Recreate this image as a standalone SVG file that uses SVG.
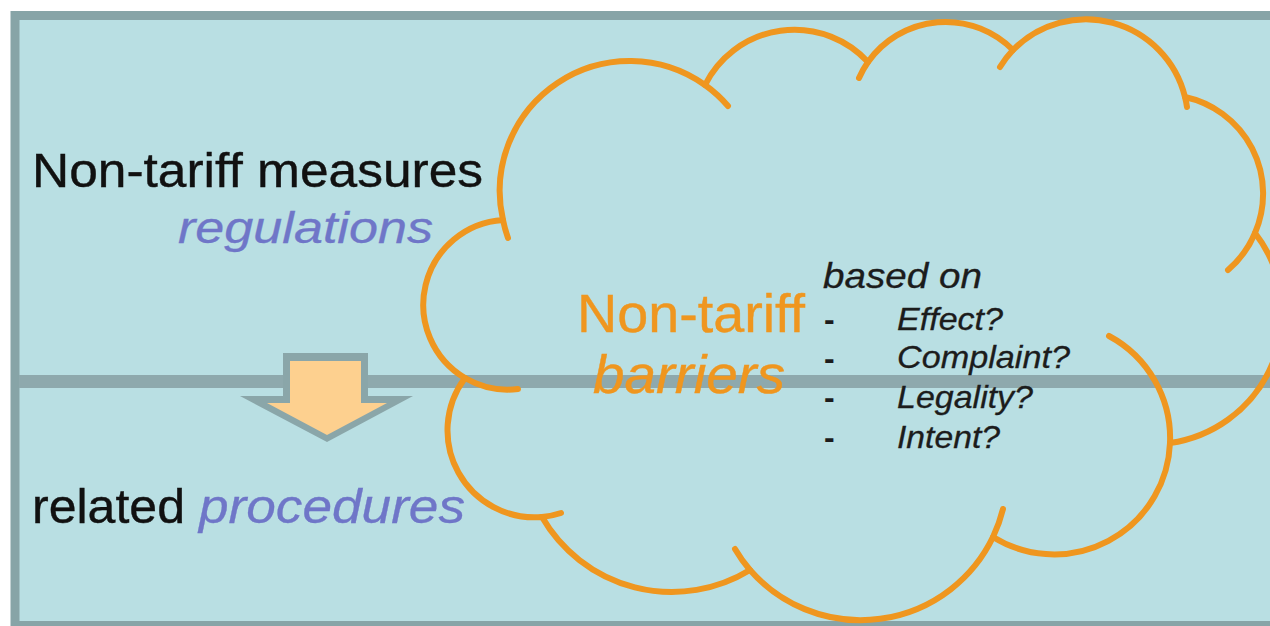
<svg xmlns="http://www.w3.org/2000/svg" width="1270" height="626" viewBox="0 0 1270 626">
<style>
.t{font-family:"Liberation Sans",Arial,Helvetica,sans-serif}
.blk{fill:#111111;stroke:#111111;stroke-width:0.4}
.pur{fill:#6f76c8;stroke:#6f76c8;stroke-width:0.3;font-style:italic}
.org{fill:#ef961f;stroke:#ef961f;stroke-width:0.4}
.lst{fill:#1c1c1c;stroke:#1c1c1c;stroke-width:0.3;font-style:italic}
.dash{fill:#1c1c1c;font-weight:bold}
.cl{fill:none;stroke:#ef961f;stroke-width:6;stroke-linecap:round;stroke-linejoin:round}
</style>
<rect x="0" y="0" width="1270" height="626" fill="#ffffff"/>
<g id="frame">
<rect x="15" y="15.5" width="1270" height="610" fill="#b9dfe3" stroke="#87a4a7" stroke-width="9"/>
<rect x="19" y="375" width="1251" height="13" fill="#8ea9ad"/>
</g>
<g id="connectors">
<polygon points="283,353 368,353 368,396 413,396 327,442 240,396 283,396" fill="#8aa6a9"/>
<polygon points="290,361 361,361 361,403 387,403 327,435 267,403 290,403" fill="#fdd08f"/>
</g>
<g id="ntm">
<text class="t blk" x="32" y="187" font-size="48" textLength="451" lengthAdjust="spacingAndGlyphs">Non-tariff measures</text>
<text class="t pur" x="178" y="243" font-size="44" textLength="255" lengthAdjust="spacingAndGlyphs">regulations</text>
</g>
<g id="procedures">
<text class="t blk" x="32" y="523" font-size="48" textLength="153" lengthAdjust="spacingAndGlyphs">related</text>
<text class="t pur" x="199" y="523" font-size="48" textLength="266" lengthAdjust="spacingAndGlyphs">procedures</text>
</g>
<g id="cloud">
<path class="cl" d="M503,220 A130,130 0 0 1 705,85 A100,100 0 0 1 868,62 A95,95 0 0 1 1013,50 A102,102 0 0 1 1185,97 A99,99 0 0 1 1255,233 A131,131 0 0 1 1170,443 A116,116 0 0 1 993,537 A147,147 0 0 1 750,570 A150,150 0 0 1 542,517 A87,87 0 0 1 465,378 A85,85 0 0 1 503,220 Z"/>
<path class="cl" d="M503,220 A130,130 0 0 0 508,238 M705,85 A130,130 0 0 1 728,106 M868,62 A95,95 0 0 0 859,78 M1013,50 A102,102 0 0 0 1000,67 M1185,97 A102,102 0 0 1 1187,107 M1255,233 A99,99 0 0 1 1228,270 M1170,443 A116,116 0 0 0 1109,336 M993,537 A147,147 0 0 0 1003,509 M750,570 A147,147 0 0 1 735,549 M542,517 A87,87 0 0 0 561,513 M465,378 A85,85 0 0 0 518,389"/>
<text class="t org" x="577" y="332" font-size="53" textLength="228" lengthAdjust="spacingAndGlyphs">Non-tariff</text>
<text class="t org" x="593" y="393" font-size="53" font-style="italic" textLength="192" lengthAdjust="spacingAndGlyphs">barriers</text>
<text class="t lst" x="823" y="288" font-size="35" textLength="159" lengthAdjust="spacingAndGlyphs">based on</text>
<text class="t dash" x="824" y="330" font-size="32">-</text>
<text class="t dash" x="824" y="369" font-size="32">-</text>
<text class="t dash" x="824" y="408" font-size="32">-</text>
<text class="t dash" x="824" y="448" font-size="32">-</text>
<text class="t lst" x="897" y="330" font-size="32" textLength="106" lengthAdjust="spacingAndGlyphs">Effect?</text>
<text class="t lst" x="897" y="368" font-size="32" textLength="173" lengthAdjust="spacingAndGlyphs">Complaint?</text>
<text class="t lst" x="897" y="408" font-size="32" textLength="136" lengthAdjust="spacingAndGlyphs">Legality?</text>
<text class="t lst" x="897" y="448" font-size="32" textLength="103" lengthAdjust="spacingAndGlyphs">Intent?</text>
</g>
</svg>
